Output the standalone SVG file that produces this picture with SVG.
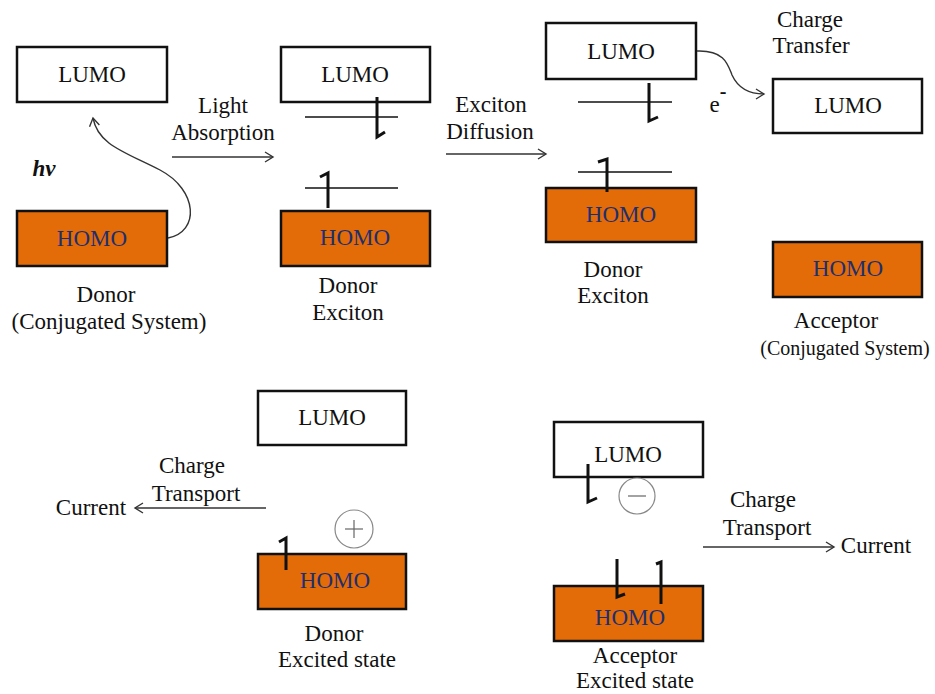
<svg xmlns="http://www.w3.org/2000/svg" width="935" height="694" viewBox="0 0 935 694">
<style>
text{font-family:"Liberation Serif","Times New Roman",serif;font-size:23px;fill:#111;text-anchor:middle}
.lumo{fill:#fff;stroke:#111;stroke-width:2.5}
.homo{fill:#E36C09;stroke:#111;stroke-width:2.5}
.ht{fill:#1F2F6E}
.lvl{stroke:#111;stroke-width:1.3;fill:none}
.spin{stroke:#111;stroke-width:3;fill:none;stroke-linejoin:miter}
.conn{stroke:#333;stroke-width:1.4;fill:none;marker-end:url(#arr)}
.chg{fill:#fff;stroke:#888;stroke-width:1.2}
.sign{stroke:#666;stroke-width:1.2}
</style>
<defs>
<marker id="arr" markerUnits="userSpaceOnUse" markerWidth="14" markerHeight="14" refX="10" refY="6" orient="auto">
<path d="M2,1 L10,6 L2,11" fill="none" stroke="#333" stroke-width="1.4"/>
</marker>
</defs>

<g id="donor">
<rect class="lumo" x="17" y="47" width="150" height="55"/>
<text x="92" y="82">LUMO</text>
<rect class="homo" x="17" y="211" width="150" height="55"/>
<text class="ht" x="92" y="246">HOMO</text>
<text x="44" y="176" style="font-weight:bold;font-style:italic">hv</text>
<text x="106" y="302">Donor</text>
<text x="109" y="329">(Conjugated System)</text>
</g>

<g id="donor-exciton">
<rect class="lumo" x="281" y="47" width="149" height="55"/>
<text x="355" y="82">LUMO</text>
<rect class="homo" x="281" y="211" width="149" height="55"/>
<text class="ht" x="355" y="245">HOMO</text>
<line class="lvl" x1="305" y1="117" x2="398" y2="117"/>
<line class="lvl" x1="305" y1="188" x2="398" y2="188"/>
<path class="spin" d="M377,97 L377,137 L385,132"/>
<path class="spin" d="M328,208 L328,173 L320,177"/>
<text x="348" y="293">Donor</text>
<text x="348" y="320">Exciton</text>
</g>

<g id="donor-exciton-2">
<rect class="lumo" x="546" y="23" width="150" height="56"/>
<text x="621" y="59">LUMO</text>
<rect class="homo" x="546" y="188" width="150" height="54"/>
<text class="ht" x="621" y="222">HOMO</text>
<line class="lvl" x1="578" y1="102" x2="672" y2="102"/>
<line class="lvl" x1="578" y1="172" x2="672" y2="172"/>
<path class="spin" d="M649,83 L649,121 L658,117"/>
<path class="spin" d="M607,192 L607,159 L598,162"/>
<text x="613" y="277">Donor</text>
<text x="613" y="303">Exciton</text>
</g>

<g id="acceptor">
<rect class="lumo" x="773" y="79" width="149" height="54"/>
<text x="848" y="113">LUMO</text>
<rect class="homo" x="773" y="242" width="149" height="55"/>
<text class="ht" x="848" y="276">HOMO</text>
<text x="836" y="328">Acceptor</text>
<text x="845" y="355" style="font-size:20px">(Conjugated System)</text>
</g>

<g id="donor-excited">
<rect class="lumo" x="258" y="391" width="148" height="54"/>
<text x="332" y="425">LUMO</text>
<rect class="homo" x="258" y="554" width="148" height="55"/>
<text class="ht" x="335" y="588">HOMO</text>
<path class="spin" d="M286,570 L286,538 L279,542"/>
<circle class="chg" cx="354" cy="529" r="19"/>
<line class="sign" x1="345" y1="529" x2="363" y2="529"/>
<line class="sign" x1="354" y1="520" x2="354" y2="538"/>
<text x="334" y="641">Donor</text>
<text x="337" y="667">Excited state</text>
</g>

<g id="acceptor-excited">
<rect class="lumo" x="554" y="422" width="149" height="55"/>
<text x="628" y="462">LUMO</text>
<rect class="homo" x="554" y="586" width="149" height="55"/>
<text class="ht" x="630" y="625">HOMO</text>
<path class="spin" d="M588,464 L588,502 L597,498"/>
<circle class="chg" cx="637" cy="496" r="18"/>
<line class="sign" x1="628" y1="496" x2="646" y2="496"/>
<path class="spin" d="M617,559 L617,597 L625,594"/>
<path class="spin" d="M661,604 L661,562 L656,564"/>
<text x="635" y="663">Acceptor</text>
<text x="635" y="688">Excited state</text>
</g>

<g id="connectors">
<path class="conn" d="M168,238 C200,232 198,190 160,170 C125,152 98,145 93,118"/>
<line class="conn" x1="172" y1="157" x2="273" y2="157"/>
<text x="223" y="113">Light</text>
<text x="223" y="140">Absorption</text>
<line class="conn" x1="446" y1="154" x2="546" y2="154"/>
<text x="491" y="112">Exciton</text>
<text x="490" y="139">Diffusion</text>
<path class="conn" d="M697,51 C725,50 728,65 732,75 C738,88 750,94 764,94"/>
<text x="810" y="27">Charge</text>
<text x="811" y="53">Transfer</text>
<text x="718" y="112">e<tspan dy="-14" style="font-weight:bold;font-size:20px">-</tspan></text>
<line class="conn" x1="266" y1="508" x2="135" y2="508"/>
<text x="192" y="473">Charge</text>
<text x="196" y="501">Transport</text>
<text x="91" y="515">Current</text>
<line class="conn" x1="703" y1="547" x2="834" y2="547"/>
<text x="763" y="507">Charge</text>
<text x="767" y="535">Transport</text>
<text x="876" y="553">Current</text>
</g>
</svg>
